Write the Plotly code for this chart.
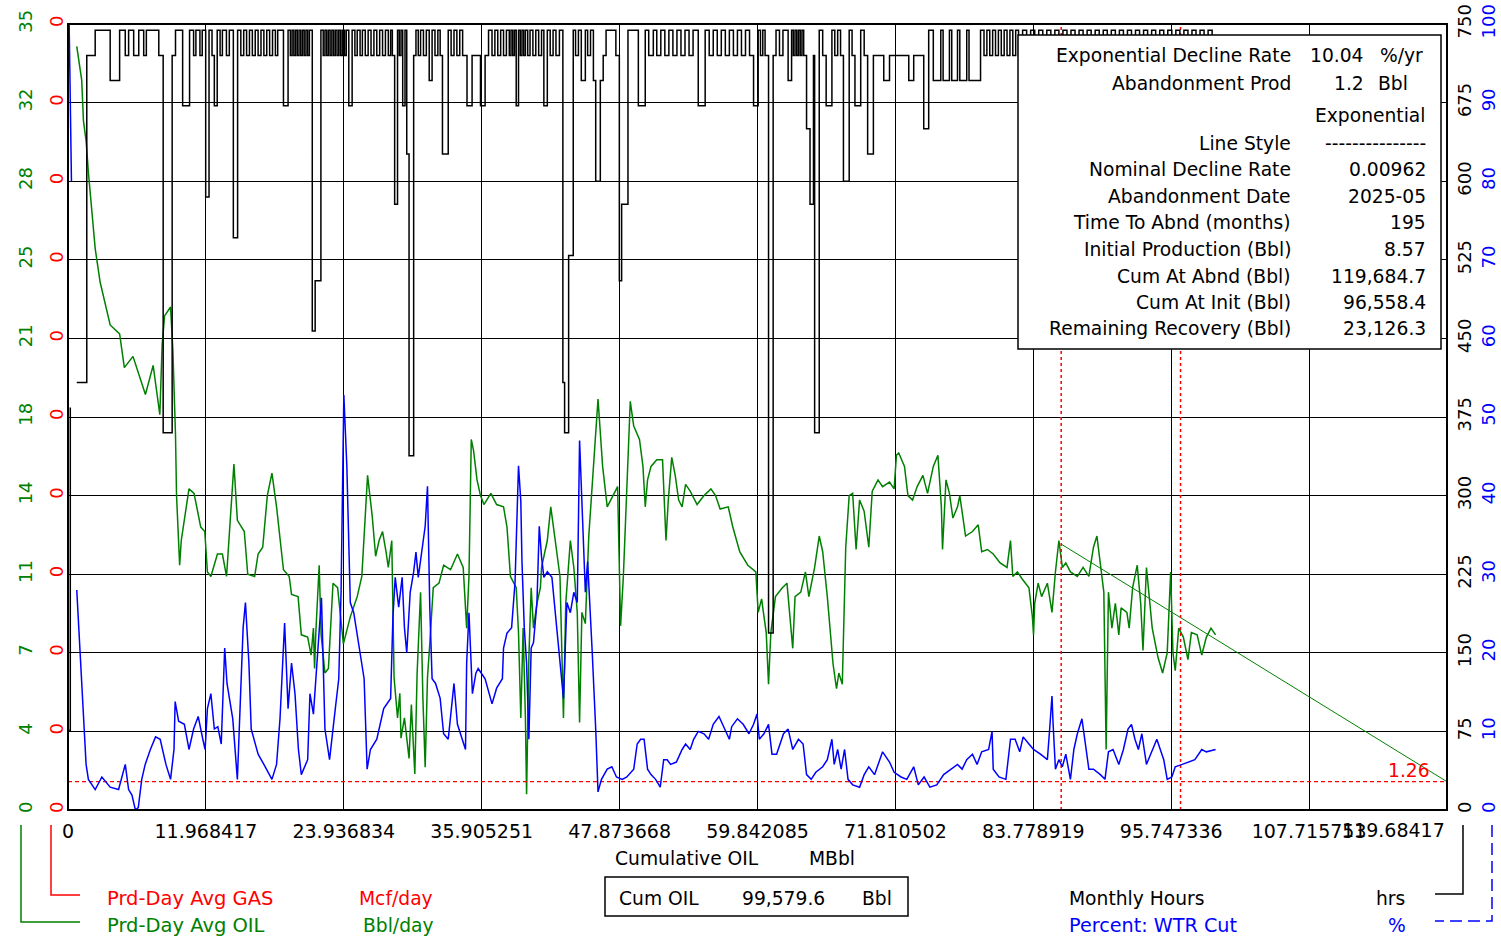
import plotly.graph_objects as go

# ---------------- data ----------------
x_ticks = [0, 11.968417, 23.936834, 35.905251, 47.873668, 59.842085, 71.810502,
           83.778919, 95.747336, 107.715753, 119.68417]
x_tick_text = ["0", "11.968417", "23.936834", "35.905251", "47.873668", "59.842085",
               "71.810502", "83.778919", "95.747336", "107.715753", "119.68417"]
oil_ticks = [0, 3.5, 7, 10.5, 14, 17.5, 21, 24.5, 28, 31.5, 35]
oil_tick_text = ["0", "4", "7", "11", "14", "18", "21", "25", "28", "32", "35"]
gas_ticks = [0, 1, 2, 3, 4, 5, 6, 7, 8, 9, 10]
gas_tick_text = ["0"] * 11
hrs_ticks = [0, 75, 150, 225, 300, 375, 450, 525, 600, 675, 750]
wc_ticks = [0, 10, 20, 30, 40, 50, 60, 70, 80, 90, 100]

# Prd-Day Avg OIL (Bbl/day) vs cumulative oil (MBbl)
oil_cum = [0.76, 1.19, 1.34, 1.57, 1.77, 2.06, 2.36, 2.79, 3.23, 3.66, 4.48, 4.89, 5.64, 6.72, 7.39,
           7.97, 8.17, 8.38, 8.90, 9.10, 9.33, 9.42, 9.69, 9.83, 10.5, 10.94, 11.52, 11.87, 12.1, 12.4,
           12.97, 13.4, 13.76, 14.28, 14.4, 14.7, 15.3, 15.6, 16.2, 16.5, 16.9, 17.3, 17.7, 18.1, 18.7,
           19.2, 19.4, 19.97, 20.25, 20.8, 21.1, 21.3, 21.4, 21.5, 21.8, 21.97, 22.3, 22.6, 23.0, 23.4,
           23.9, 24.5, 25.1, 25.5, 25.7, 26.0, 26.4, 26.7, 27.0, 27.3, 27.6, 27.8, 28.1, 28.3, 28.6,
           28.8, 28.9, 29.2, 29.6, 29.8, 30.1, 30.3, 30.6, 30.8, 31.0, 31.2, 31.4, 31.7, 32.2, 32.6,
           33.2, 33.8, 34.3, 34.6, 34.8, 35.0, 35.2, 35.5, 35.8, 36.1, 36.7, 37.2, 37.8, 38.1, 38.4,
           38.9, 39.1, 39.3, 39.5, 39.7, 39.8, 40.0, 40.2, 40.4, 40.7, 41.0, 41.1, 41.6, 41.9, 42.3,
           42.7, 43.0, 43.2, 43.6, 43.9, 44.2, 44.4, 44.6, 44.9, 45.2, 45.6, 46.0, 46.4, 46.8, 47.2,
           47.7, 47.96, 48.2, 48.4, 48.6, 48.8, 49.1, 49.6, 49.9, 50.1, 50.3, 50.6, 51.1, 51.6, 51.9,
           52.1, 52.4, 52.7, 53.0, 53.3, 53.6, 54.0, 54.6, 55.2, 55.8, 56.2, 56.6, 57.3, 57.7, 58.3,
           59.0, 59.7, 59.9, 60.2, 60.3, 60.6, 60.8, 61.0, 61.4, 62.0, 62.4, 62.9, 63.1, 63.6, 64.0,
           64.3, 64.8, 65.2, 65.5, 65.9, 66.4, 66.7, 66.9, 67.2, 67.5, 67.8, 68.1, 68.4, 68.7, 69.1,
           69.5, 69.8, 70.3, 70.7, 71.3, 71.7, 71.9, 72.1, 72.6, 72.9, 73.3, 73.7, 74.2, 74.6, 75.1,
           75.5, 75.8, 75.9, 76.2, 76.5, 76.8, 77.2, 77.4, 77.9, 78.5, 79.0, 79.3, 79.8, 80.3, 80.9,
           81.5, 81.8, 82.0, 82.4, 82.8, 83.4, 83.7, 83.8, 83.9, 84.2, 84.5, 85.0, 85.4, 85.7, 86.0,
           86.3, 86.6, 87.0, 87.6, 88.1, 88.6, 89.0, 89.3, 89.6, 89.9, 90.1, 90.3, 90.6, 90.9, 91.2,
           91.4, 91.9, 92.1, 92.4, 92.8, 93.1, 93.3, 93.6, 93.9, 94.1, 94.6, 95.0, 95.4, 95.7, 95.9,
           96.1, 96.4, 96.8, 97.2, 97.5, 98.0, 98.4, 98.8, 99.2, 99.6]
oil_rate = [34.0, 32.5, 30.7, 29.8, 28.4, 26.6, 25.0, 23.5, 22.5, 21.6, 21.2, 19.7, 20.2, 18.5, 19.8,
            17.6, 20.7, 22.0, 22.4, 20.5, 16.7, 14.0, 10.9, 12.0, 14.3, 14.1, 12.6, 12.4, 10.6, 10.4,
            11.4, 11.4, 10.4, 14.4, 15.4, 12.9, 12.4, 10.5, 10.4, 11.4, 11.7, 14.0, 15.0, 13.5, 10.7,
            10.4, 9.6, 9.5, 7.8, 7.7, 6.9, 8.1, 6.3, 7.8, 10.9, 7.8, 6.1, 6.3, 10.1, 9.9,
            7.4, 8.6, 9.5, 10.4, 12.2, 14.9, 13.1, 11.3, 12.0, 12.4, 11.5, 10.8, 12.0, 5.9, 4.1,
            5.2, 3.2, 4.1, 2.3, 4.7, 1.6, 6.1, 9.7, 5.0, 1.9, 5.9, 7.4, 9.9, 10.1, 10.9,
            10.7, 11.4, 10.8, 8.1, 10.4, 16.5, 16.0, 14.7, 14.0, 13.6, 14.1, 13.6, 13.5, 12.6, 10.4,
            9.9, 7.9, 4.1, 8.1, 4.1, 0.7, 6.8, 9.9, 8.1, 9.2, 9.9, 10.8, 12.0, 13.5, 12.0,
            10.4, 4.1, 9.2, 12.0, 10.8, 8.8, 3.9, 8.8, 8.3, 12.2, 15.3, 18.3, 15.3, 13.5, 13.9,
            14.4, 8.2, 10.4, 13.0, 15.5, 18.2, 17.1, 16.5, 15.3, 13.5, 14.7, 15.3, 15.6, 15.6, 12.0,
            13.8, 15.7, 14.9, 13.8, 13.5, 14.5, 14.2, 13.6, 14.0, 14.3, 14.0, 13.4, 13.5, 12.6, 11.5,
            10.9, 10.6, 8.8, 9.4, 9.0, 7.9, 5.6, 7.9, 9.5, 9.9, 10.1, 7.2, 9.5, 9.7, 10.6,
            9.5, 10.8, 12.2, 11.5, 9.5, 6.5, 5.4, 6.1, 5.6, 11.7, 14.0, 14.1, 11.6, 13.8, 13.3,
            11.7, 14.2, 14.7, 14.4, 14.6, 14.3, 15.8, 15.9, 15.3, 14.0, 13.8, 14.4, 14.9, 14.1, 15.3,
            15.8, 13.5, 11.6, 14.7, 14.1, 13.0, 13.5, 14.0, 12.2, 12.4, 12.7, 11.5, 11.6, 11.4, 11.0,
            10.8, 12.0, 10.4, 10.6, 10.3, 9.9, 8.6, 7.8, 9.2, 10.1, 9.5, 10.1, 8.8, 10.6, 12.0,
            10.8, 11.0, 10.6, 10.4, 10.8, 10.4, 11.7, 12.2, 10.8, 9.7, 2.7, 9.7, 8.1, 9.2, 7.8,
            9.0, 8.8, 8.1, 9.9, 10.9, 9.2, 7.1, 10.8, 9.0, 8.1, 6.8, 6.1, 7.0, 10.6, 7.0,
            6.2, 8.1, 7.7, 6.7, 7.9, 7.8, 6.9, 7.7, 8.1, 7.8]

# Monthly Hours (hrs)
hrs_cum = [0.10, 0.20, None,
           0.76, 1.63, 2.36, 3.66, 4.48, 4.97, 5.26, 5.70, 6.14, 6.57, 6.80, 7.88, 8.26, 9.04, 9.33,
           9.95, 10.55, 10.90, 11.10, 11.45, 11.65, 11.95, 12.24, 12.50, 12.70, 12.95, 13.20, 13.40,
           13.75, 14.00, 14.35, 14.72, 15.00, 15.25, 15.50, 15.75, 16.00, 16.25, 16.50, 16.75, 17.00,
           17.25, 17.50, 17.75, 18.00, 18.20, 18.70, 19.10, 19.30, 19.45, 19.60, 19.75, 19.90, 20.05,
           20.20, 20.35, 20.50, 20.65, 20.80, 20.95, 21.20, 21.45, 21.95, 22.15, 22.30, 22.45, 22.60,
           22.75, 22.90, 23.05, 23.20, 23.35, 23.50, 23.65, 23.80, 24.00, 24.15, 24.37, 24.66, 24.90,
           25.10, 25.35, 25.55, 25.80, 26.05, 26.30, 26.55, 26.80, 27.05, 27.30, 27.55, 27.80, 28.00,
           28.15, 28.35, 28.60, 28.75, 28.90, 29.05, 29.25, 29.40, 29.60, 30.00, 30.20, 30.40, 30.60,
           30.85, 31.10, 31.35, 31.60, 31.85, 32.10, 32.30, 32.50, 33.00, 33.25, 33.50, 33.75, 34.00,
           34.25, 34.63, 35.07, 35.80, 36.20, 36.50, 36.80, 37.05, 37.30, 37.55, 37.80, 38.05, 38.30,
           38.45, 38.60, 38.75, 38.90, 39.10, 39.25, 39.40, 39.55, 39.70, 39.90, 40.10, 40.35, 40.60,
           40.85, 41.10, 41.30, 41.60, 41.85, 42.10, 42.35, 42.65, 42.95, 43.10, 43.45, 43.85, 44.05,
           44.30, 44.55, 44.90, 45.10, 45.35, 45.60, 45.80, 46.20, 46.45, 46.70, 47.55, 47.85, 48.05,
           48.60, 49.50, 50.10, 50.40, 50.80, 51.10, 51.45, 51.80, 52.15, 52.50, 52.85, 53.20, 53.55,
           53.90, 54.25, 54.70, 55.30, 55.65, 56.00, 56.35, 56.70, 57.05, 57.40, 57.75, 58.10, 58.45,
           58.80, 59.15, 59.50, 59.90, 60.10, 60.30, 60.50, 60.80, 61.20, 61.45, 61.75, 62.05, 62.50,
           62.80, 62.95, 63.10, 63.25, 63.40, 63.55, 63.70, 63.85, 64.10, 64.40, 64.70, 64.80, 65.20,
           65.50, 65.80, 66.30, 66.55, 66.80, 67.05, 67.30, 67.80, 68.05, 68.30, 68.80, 69.10, 69.40,
           69.90, 70.80, 71.30, 72.97, 73.40, 74.27, 74.70, 75.10, 75.75, 75.95, 76.50, 76.70, 77.20,
           77.40, 78.00, 78.20, 79.20, 79.50, 79.75, 80.00, 80.25, 80.50, 80.75, 81.00, 81.25, 81.50,
           81.75, 82.00, 82.25, 82.50, 82.85, 83.20, 83.55, 83.90, 84.25, 84.60, 84.95, 85.30, 85.65,
           86.00, 86.35, 86.70, 87.05, 87.40, 87.75, 88.10, 88.45, 88.80, 89.15, 89.50, 89.85, 90.20,
           90.55, 90.90, 91.25, 91.60, 91.95, 92.30, 92.65, 93.00, 93.35, 93.70, 94.05, 94.40, 94.75,
           95.10, 95.45, 95.80, 96.15, 96.50, 96.85, 97.20, 97.55, 97.90, 98.25, 98.60, 98.95, 99.30,
           99.60]
hrs = [76, 384, None,
       408, 720, 744, 696, 744, 720, 744, 720, 744, 720, 744, 720, 360, 720, 744,
       672, 744, 720, 744, 720, 744, 585, 744, 720, 672, 744, 720, 744,
       720, 744, 546, 744, 720, 744, 720, 744, 720, 744, 720, 744, 720,
       744, 720, 744, 720, 744, 672, 744, 720, 744, 720, 744, 720, 744,
       720, 744, 720, 744, 720, 744, 457, 505, 744, 720, 744, 720, 744,
       720, 744, 720, 744, 720, 744, 720, 744, 720, 744, 672, 744, 720,
       744, 720, 744, 720, 744, 720, 744, 720, 744, 720, 744, 720, 744,
       720, 578, 744, 720, 744, 672, 744, 626, 338, 720, 744, 720, 744,
       720, 744, 696, 744, 720, 744, 720, 626, 744, 720, 744, 720, 744,
       720, 672, 720, 672, 720, 744, 720, 744, 720, 744, 720, 744, 720,
       744, 720, 744, 672, 744, 720, 744, 720, 744, 720, 744, 720, 744,
       720, 744, 672, 744, 720, 744, 720, 744, 408, 360, 529, 744, 720,
       744, 696, 744, 720, 744, 696, 600, 696, 720, 744, 720, 505, 578,
       744, 672, 744, 720, 744, 720, 744, 720, 744, 720, 744, 720, 744,
       720, 744, 672, 744, 720, 744, 720, 744, 720, 744, 720, 744, 720,
       744, 720, 672, 744, 720, 744, 720, 169, 720, 744, 720, 744, 696,
       744, 720, 744, 720, 744, 720, 744, 720, 650, 578, 720, 360, 744,
       720, 672, 744, 720, 744, 720, 600, 744, 720, 672, 744, 720, 626,
       720, 696, 720, 696, 720, 650, 744, 696, 744, 696, 744, 696, 744,
       696, 744, 696, 744, 720, 744, 720, 744, 720, 744, 720, 744, 720,
       744, 720, 744, 720, 744, 720, 744, 720, 744, 720, 744, 720, 744,
       720, 744, 720, 744, 720, 744, 720, 744, 720, 744, 720, 744, 720,
       744, 720, 744, 720, 744, 720, 744, 720, 744, 720, 744, 720, 744,
       720, 744, 720, 744, 720, 744, 720, 744, 720, 744, 720, 744, 720,
       720]

# Percent: WTR Cut (%)
wc_cum = [0.10, 0.30, None,
          0.76, 1.05, 1.34, 1.57, 1.77, 2.36, 2.94, 3.66, 4.39, 4.97, 5.26, 5.55, 5.85, 6.1, 6.4,
          6.7, 7.15, 7.6, 8.0, 8.5, 8.9, 9.2, 9.3, 9.6, 10.1, 10.5, 10.9, 11.3, 11.7, 11.9, 12.1,
          12.4, 12.7, 13.0, 13.3, 13.6, 13.8, 14.3, 14.7, 15.0, 15.2, 15.4, 15.7, 15.9, 16.5, 17.0,
          17.7, 18.1, 18.4, 18.8, 19.1, 19.4, 19.7, 20.0, 20.25, 20.8, 21.0, 21.3, 21.5, 22.0, 22.3,
          22.7, 23.2, 23.5, 23.7, 23.94, 24.2, 24.4, 24.5, 24.8, 25.2, 25.7, 25.96, 26.25, 26.8, 27.4,
          28.0, 28.2, 28.4, 28.7, 29.0, 29.2, 29.4, 29.7, 30.0, 30.2, 30.4, 30.7, 31.0, 31.2, 31.4,
          31.6, 31.9, 32.3, 32.6, 33.0, 33.5, 33.8, 34.2, 34.5, 34.6, 34.8, 35.1, 35.4, 35.6, 35.9,
          36.2, 36.8, 37.2, 37.7, 37.8, 38.1, 38.5, 38.8, 39.1, 39.3, 39.4, 39.6, 39.8, 40.0, 40.2,
          40.4, 40.7, 40.9, 41.1, 41.3, 41.6, 42.0, 42.4, 42.7, 43.0, 43.3, 43.6, 43.9, 44.2, 44.4,
          44.6, 44.9, 45.1, 45.3, 45.5, 45.8, 46.0, 46.3, 46.8, 47.2, 47.6, 48.1, 48.5, 49.1, 49.4,
          49.7, 50.0, 50.3, 50.6, 51.0, 51.4, 51.7, 52.0, 52.3, 52.8, 53.3, 53.6, 54.0, 54.3, 54.7,
          55.2, 55.6, 56.0, 56.5, 56.9, 57.4, 57.6, 58.1, 58.6, 59.1, 59.5, 59.8, 60.0, 60.4, 60.8,
          61.1, 61.5, 62.1, 62.5, 62.9, 63.4, 63.8, 64.1, 64.5, 64.9, 65.5, 65.9, 66.3, 66.5, 66.8,
          67.1, 67.4, 67.7, 68.1, 68.7, 69.1, 69.5, 70.0, 70.7, 71.3, 71.7, 72.3, 72.8, 73.4, 73.8,
          74.3, 74.8, 75.4, 76.0, 76.6, 77.2, 77.6, 78.0, 78.5, 78.9, 79.3, 79.9, 80.2, 80.3, 80.8,
          81.4, 81.8, 82.2, 82.6, 82.9, 83.4, 83.8, 84.4, 85.0, 85.2, 85.4, 85.5, 85.7, 86.0, 86.3,
          86.6, 87.0, 87.3, 87.6, 88.0, 88.3, 88.6, 89.0, 89.6, 90.0, 90.3, 90.7, 91.2, 91.6, 92.0,
          92.3, 92.6, 92.9, 93.2, 93.6, 94.1, 94.5, 95.1, 95.4, 95.8, 96.1, 96.7, 97.3, 97.8, 98.4,
          98.8, 99.6]
wc = [100, 80, None,
      28.0, 20.6, 11.6, 5.8, 3.9, 2.6, 4.2, 2.9, 2.6, 5.8, 2.6, 1.9, 0.0, 0.3, 3.9,
      5.8, 7.7, 9.3, 9.0, 5.8, 3.9, 7.7, 13.8, 11.3, 10.9, 7.7, 10.3, 11.9, 9.0, 7.7, 12.9,
      14.8, 10.3, 10.6, 8.4, 20.6, 16.1, 11.6, 3.9, 14.8, 23.2, 26.4, 18.7, 10.3, 7.1, 5.8,
      3.9, 5.8, 11.6, 23.8, 12.9, 18.7, 14.8, 7.7, 4.5, 6.4, 14.8, 12.2, 16.7, 27.0, 10.3,
      6.4, 12.9, 16.7, 27.7, 52.8, 43.8, 29.6, 26.4, 25.1, 21.3, 16.7, 5.2, 7.7, 9.0, 12.9,
      14.2, 24.5, 29.6, 25.8, 29.6, 23.2, 20.0, 27.7, 30.3, 32.8, 29.6, 32.8, 36.1, 41.2, 25.8,
      16.7, 16.1, 14.2, 9.7, 9.0, 16.1, 10.9, 9.0, 7.7, 18.7, 25.1, 14.8, 17.4, 18.0, 17.4,
      16.7, 13.5, 15.5, 16.7, 20.6, 22.5, 23.2, 29.0, 43.8, 39.3, 31.6, 23.2, 18.7, 9.0, 20.6,
      21.3, 26.4, 36.1, 32.2, 29.6, 30.3, 29.6, 23.2, 18.0, 14.2, 26.4, 25.1, 27.7, 26.4, 47.0,
      39.3, 27.7, 31.6, 26.4, 20.0, 10.3, 2.3, 3.9, 5.2, 5.5, 4.2, 3.9, 4.2, 5.2, 8.4,
      9.0, 9.0, 5.2, 4.5, 3.9, 2.9, 6.4, 6.4, 5.8, 6.1, 7.7, 8.4, 7.7, 9.0, 10.0,
      9.7, 9.0, 10.9, 11.9, 10.6, 9.0, 10.6, 11.6, 10.9, 9.7, 10.9, 12.2, 9.0, 9.7, 10.9,
      7.1, 7.1, 9.7, 10.3, 7.7, 9.0, 8.4, 4.5, 3.9, 4.8, 5.5, 6.4, 9.0, 5.8, 7.7,
      5.2, 7.7, 3.9, 3.2, 2.9, 4.5, 5.5, 4.5, 7.4, 6.1, 4.8, 4.2, 3.9, 5.5, 3.2,
      4.2, 2.9, 3.2, 4.5, 5.2, 5.8, 5.2, 6.4, 7.1, 5.8, 7.4, 7.7, 10.0, 5.2, 4.2,
      3.9, 9.0, 9.0, 7.4, 9.3, 8.4, 7.7, 7.1, 6.4, 10.3, 14.5, 10.9, 5.2, 6.4, 5.5,
      7.1, 3.9, 7.7, 9.7, 11.6, 8.4, 5.2, 5.2, 4.5, 3.9, 7.4, 7.7, 5.8, 7.7, 10.3,
      10.9, 9.0, 7.7, 9.7, 5.8, 7.7, 9.0, 6.4, 3.9, 4.2, 5.5, 5.8, 6.1, 6.4, 7.7,
      7.4, 7.7]

# Exponential decline forecast
fc_cum = [86.2, 96.558, 119.684]
fc_rate = [11.84, 8.57, 1.26]
abandon_rate = 1.26
fit_lines = [86.2, 96.558]

box_labels = ["Exponential Decline Rate", "Abandonment Prod", "", "Line Style",
              "Nominal Decline Rate", "Abandonment Date", "Time To Abnd (months)",
              "Initial Production (Bbl)", "Cum At Abnd (Bbl)", "Cum At Init (Bbl)",
              "Remaining Recovery (Bbl)"]
box_values = ["", "", "Exponential", "---------------", "0.00962", "2025-05", "195",
              "8.57", "119,684.7", "96,558.4", "23,126.3"]

# ---------------- layout helpers (pixel -> paper) ----------------
W, H = 1501, 937
L, R, T, B = 68, 1447, 24, 810
FONT = "DejaVu Sans"
GREEN, RED, BLUE, BLACK = "#008000", "#FF0000", "#0000FF", "#000000"


def px(x):
    return x / W


def py(y):
    return 1 - y / H


fig = go.Figure()

fig.add_trace(go.Scatter(x=wc_cum, y=wc, mode="lines", yaxis="y4",
                         line=dict(color=BLUE, width=1.5), connectgaps=False,
                         name="Percent: WTR Cut"))
fig.add_trace(go.Scatter(x=hrs_cum, y=hrs, mode="lines", yaxis="y3",
                         line=dict(color=BLACK, width=1.5, shape="hv"), connectgaps=False,
                         name="Monthly Hours"))
fig.add_trace(go.Scatter(x=oil_cum, y=oil_rate, mode="lines", yaxis="y",
                         line=dict(color=GREEN, width=1.5), name="Prd-Day Avg OIL"))
fig.add_trace(go.Scatter(x=fc_cum, y=fc_rate, mode="lines", yaxis="y",
                         line=dict(color=GREEN, width=1), name="Exponential"))
fig.add_trace(go.Scatter(x=[0, x_ticks[-1]], y=[abandon_rate, abandon_rate], mode="lines",
                         yaxis="y", line=dict(color=RED, width=1.2, dash="4px,3px"),
                         name="Abandonment"))
fig.add_trace(go.Scatter(x=[fit_lines[0], fit_lines[0], None, fit_lines[1], fit_lines[1]],
                         y=[0, 35, None, 0, 35], mode="lines", yaxis="y",
                         line=dict(color=RED, width=1.5, dash="3px,3px"), name="Fit range"))
# empty trace that activates the gas axis
fig.add_trace(go.Scatter(x=[None], y=[None], yaxis="y2", showlegend=False, hoverinfo="skip"))

ydom = [py(B), py(T)]
tf = dict(family=FONT, size=18)

fig.update_layout(
    width=W, height=H, margin=dict(l=0, r=0, t=0, b=0),
    paper_bgcolor="white", plot_bgcolor="white", showlegend=False,
    font=dict(family=FONT, size=18, color=BLACK),
    xaxis=dict(domain=[px(L), px(R)], range=[0, x_ticks[-1]], tickvals=x_ticks[:-1],
               ticktext=x_tick_text[:-1], showgrid=True, gridcolor=BLACK, gridwidth=1,
               zeroline=False, showline=False, ticks="", tickfont=dict(family=FONT, size=19, color=BLACK),
               ticklabelstandoff=8, automargin=False),
    yaxis=dict(domain=ydom, range=[0, 35], tickvals=oil_ticks, ticktext=oil_tick_text,
               tickangle=-90, tickfont=dict(tf, color=GREEN), showgrid=True, gridcolor=BLACK,
               gridwidth=1, zeroline=False, showline=False, ticks="", anchor="free",
               position=px(36), automargin=False),
    yaxis2=dict(range=[0, 10], tickvals=gas_ticks, ticktext=gas_tick_text, overlaying="y",
                anchor="x", side="left", tickangle=-90, tickfont=dict(tf, color=RED),
                showgrid=False, zeroline=False, showline=False, ticks="", automargin=False),
    yaxis3=dict(range=[0, 750], tickvals=hrs_ticks, overlaying="y", anchor="x", side="right",
                tickangle=-90, tickfont=dict(tf, color=BLACK), showgrid=False, zeroline=False,
                showline=False, ticks="", automargin=False, ticklabelstandoff=5),
    yaxis4=dict(range=[0, 100], tickvals=wc_ticks, overlaying="y", anchor="free",
                position=px(1476), side="right", tickangle=-90, tickfont=dict(tf, color=BLUE),
                showgrid=False, zeroline=False, showline=False, ticks="", automargin=False),
)

shapes = []
# plot border
shapes.append(dict(type="rect", xref="paper", yref="paper", x0=px(L), x1=px(R), y0=py(B), y1=py(T),
                   line=dict(color=BLACK, width=2), layer="above"))
# info box
shapes.append(dict(type="rect", xref="paper", yref="paper", x0=px(1018), x1=px(1441),
                   y0=py(349), y1=py(35), fillcolor="white", line=dict(color=BLACK, width=1.5),
                   layer="above"))
# cum box
shapes.append(dict(type="rect", xref="paper", yref="paper", x0=px(605), x1=px(908),
                   y0=py(916), y1=py(877), line=dict(color=BLACK, width=1.5)))


def path(points):
    return "M " + " L ".join(f"{px(a):.5f},{py(b):.5f}" for a, b in points)


shapes.append(dict(type="path", xref="paper", yref="paper",
                   path=path([(21, 825), (21, 922), (80, 922)]), line=dict(color=GREEN, width=1.5)))
shapes.append(dict(type="path", xref="paper", yref="paper",
                   path=path([(51, 825), (51, 895), (80, 895)]), line=dict(color=RED, width=1.5)))
shapes.append(dict(type="path", xref="paper", yref="paper",
                   path=path([(1463, 825), (1463, 894), (1435, 894)]), line=dict(color=BLACK, width=1.5)))
shapes.append(dict(type="path", xref="paper", yref="paper",
                   path=path([(1492, 825), (1492, 921), (1435, 921)]),
                   line=dict(color=BLUE, width=1.5, dash="12px,6px")))
fig.update_layout(shapes=shapes)

ann = []
TS = 18.7


def text(x, y, s, color=BLACK, anchor="left", size=TS):
    ann.append(dict(x=px(x), y=py(y), xref="paper", yref="paper", text=s, showarrow=False,
                    xanchor=anchor, yanchor="middle", font=dict(family=FONT, size=size, color=color)))


# last x tick label (right-aligned at the plot edge, as in the reference)
ann.append(dict(x=x_ticks[-1], y=py(830), xref="x", yref="paper", text=x_tick_text[-1],
                showarrow=False, xanchor="right", yanchor="middle",
                font=dict(family=FONT, size=19, color=BLACK)))

text(613, 858, "Cumulative OIL")
text(807, 858, "MBbl")
text(617, 898, "Cum OIL")
text(740, 898, "99,579.6")
text(860, 898, "Bbl")
text(105, 898, "Prd-Day Avg GAS", RED, size=19.5)
text(357, 898, "Mcf/day", RED)
text(105, 925, "Prd-Day Avg OIL", GREEN, size=19.5)
text(361, 925, "Bbl/day", GREEN)
text(1067, 898, "Monthly Hours")
text(1374, 898, "hrs")
text(1067, 925, "Percent: WTR Cut", BLUE, size=19.2)
text(1386, 925, "%", BLUE)
text(1432, 770, "1.26", RED, anchor="right")

rows_y = [56, 83, 115, 143, 169, 196, 222, 249, 276, 302, 329]
for yy, lab, val in zip(rows_y, box_labels, box_values):
    if lab:
        text(1293, yy, lab, anchor="right")
    if val:
        text(1428, yy, val, anchor="right")
text(1308, 56, "10.04")
text(1378, 56, "%/yr")
text(1332, 83, "1.2")
text(1376, 83, "Bbl")

fig.update_layout(annotations=ann)

fig.write_html("out.html", config={"displayModeBar": False},
               post_script="document.body.style.margin='0';document.body.style.overflow='hidden';")
